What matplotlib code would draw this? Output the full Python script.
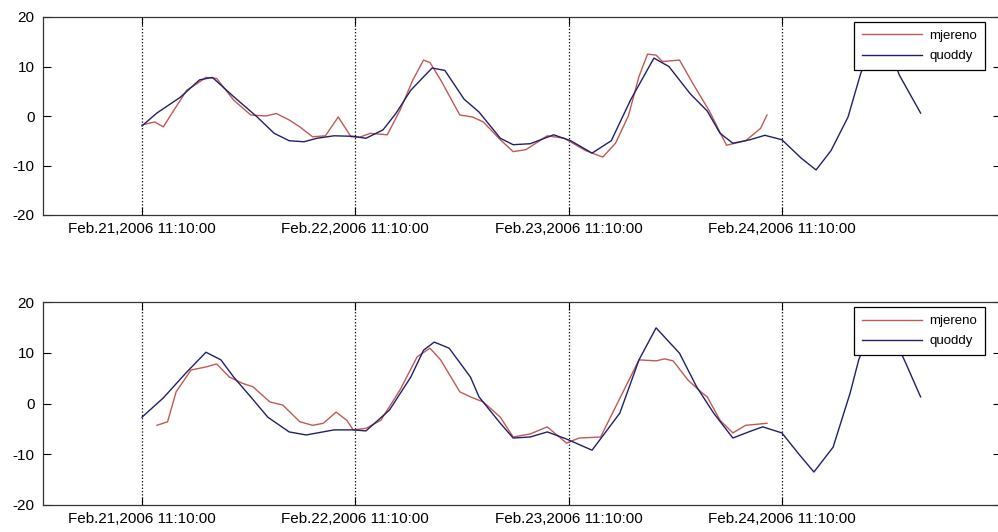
import matplotlib
matplotlib.use('Agg')
import matplotlib.pyplot as plt

plt.rcParams['font.family'] = ['Liberation Sans', 'DejaVu Sans']
plt.rcParams['axes.unicode_minus'] = False

# x in days after Feb.21,2006 11:10:00
tick_days = [0, 1, 2, 3]
tick_labels = ['Feb.21,2006 11:10:00', 'Feb.22,2006 11:10:00',
               'Feb.23,2006 11:10:00', 'Feb.24,2006 11:10:00']

# top panel
top_quoddy_t = [0.00, 0.07, 0.18, 0.27, 0.33, 0.43, 0.54, 0.62, 0.69, 0.76, 0.82, 0.90,
                0.99, 1.05, 1.13, 1.19, 1.26, 1.36, 1.42, 1.51, 1.58, 1.68, 1.74, 1.82,
                1.93, 2.01, 2.11, 2.20, 2.29, 2.40, 2.47, 2.57, 2.65, 2.71, 2.77, 2.85,
                2.92, 3.00, 3.09, 3.16, 3.23, 3.31, 3.37, 3.42, 3.46, 3.51, 3.55, 3.65]
top_quoddy = [-2.0, 0.6, 3.8, 7.3, 7.8, 3.9, -0.2, -3.5, -5.0, -5.2, -4.5, -4.0,
              -4.1, -4.5, -2.8, 0.5, 5.2, 9.7, 9.2, 3.4, 0.8, -4.5, -5.8, -5.6,
              -3.8, -5.0, -7.5, -5.0, 3.2, 11.7, 10.0, 4.5, 1.0, -3.5, -5.5, -4.8,
              -3.9, -4.8, -8.5, -10.9, -7.0, -0.2, 8.7, 13.5, 15.0, 13.0, 8.3, 0.6]

top_mjereno_t = [0.00, 0.06, 0.10, 0.15, 0.21, 0.27, 0.30, 0.35, 0.43, 0.51, 0.58, 0.63,
                 0.69, 0.74, 0.80, 0.86, 0.92, 0.98, 1.02, 1.07, 1.15, 1.21, 1.27, 1.32,
                 1.35, 1.40, 1.49, 1.55, 1.60, 1.68, 1.74, 1.80, 1.90, 1.98, 2.08, 2.16,
                 2.22, 2.28, 2.33, 2.37, 2.41, 2.44, 2.52, 2.59, 2.66, 2.74, 2.83, 2.90, 2.93]
top_mjereno = [-1.8, -1.2, -2.2, 1.2, 5.2, 6.9, 7.8, 7.6, 3.2, 0.2, 0.0, 0.5,
               -0.8, -2.2, -4.2, -4.0, -0.2, -4.2, -4.3, -3.5, -3.8, 1.2, 7.3, 11.3,
               10.8, 7.3, 0.2, -0.2, -1.2, -4.8, -7.2, -6.8, -4.0, -4.5, -7.0, -8.3,
               -5.5, 0.0, 8.0, 12.5, 12.3, 11.0, 11.3, 6.0, 1.0, -5.9, -5.0, -2.5, 0.2]

# bottom panel
bot_quoddy_t = [0.00, 0.10, 0.21, 0.30, 0.37, 0.43, 0.51, 0.59, 0.69, 0.77, 0.90, 0.99,
                1.05, 1.16, 1.26, 1.32, 1.37, 1.44, 1.54, 1.58, 1.68, 1.74, 1.82, 1.90,
                1.99, 2.11, 2.24, 2.33, 2.41, 2.52, 2.60, 2.68, 2.77, 2.85, 2.91, 3.00,
                3.08, 3.15, 3.24, 3.32, 3.36, 3.41, 3.46, 3.52, 3.58, 3.65]
bot_quoddy = [-2.7, 1.1, 6.2, 10.1, 8.6, 5.2, 1.3, -2.7, -5.6, -6.2, -5.2, -5.2,
              -5.4, -1.3, 5.2, 10.5, 12.1, 10.9, 5.2, 1.3, -3.9, -6.8, -6.6, -5.6,
              -7.0, -9.2, -1.9, 8.6, 14.9, 9.9, 3.3, -1.9, -6.8, -5.5, -4.6, -5.8,
              -10.0, -13.5, -8.6, 2.1, 8.6, 14.0, 15.5, 13.5, 8.0, 1.3]

bot_mjereno_t = [0.07, 0.12, 0.16, 0.23, 0.30, 0.35, 0.41, 0.47, 0.52, 0.60, 0.66, 0.74,
                 0.80, 0.85, 0.91, 0.96, 0.99, 1.05, 1.12, 1.21, 1.29, 1.35, 1.40, 1.49,
                 1.54, 1.60, 1.68, 1.74, 1.82, 1.90, 1.99, 2.05, 2.15, 2.26, 2.33, 2.41,
                 2.45, 2.49, 2.56, 2.62, 2.65, 2.71, 2.77, 2.83, 2.93]
bot_mjereno = [-4.3, -3.6, 2.3, 6.6, 7.2, 7.8, 5.2, 4.0, 3.3, 0.3, -0.3, -3.6,
               -4.3, -3.9, -1.7, -3.3, -5.2, -4.9, -3.3, 2.7, 9.2, 10.9, 8.6, 2.3,
               1.3, 0.3, -2.7, -6.6, -6.0, -4.6, -7.8, -6.8, -6.6, 2.7, 8.6, 8.4,
               8.8, 8.4, 4.6, 2.3, 1.3, -3.3, -5.8, -4.3, -3.9]

red = '#c05a52'
blue = '#20206a'

fig = plt.figure(figsize=(9.98, 5.32), dpi=100)
ax_top = fig.add_axes([43 / 998, 1 - 215 / 532, 958 / 998, 198 / 532])
ax_bot = fig.add_axes([43 / 998, 1 - 505 / 532, 958 / 998, 203 / 532])

panels = [(ax_top, top_mjereno_t, top_mjereno, top_quoddy_t, top_quoddy),
          (ax_bot, bot_mjereno_t, bot_mjereno, bot_quoddy_t, bot_quoddy)]

for ax, mt, mv, qt, qv in panels:
    ax.plot(mt, mv, color=red, linewidth=1.0, label='mjereno')
    ax.plot(qt, qv, color=blue, linewidth=1.0, label='quoddy')
    ax.set_xlim(-0.464, 4.027)
    ax.set_ylim(-20, 20)
    ax.set_yticks([-20, -10, 0, 10, 20])
    ax.set_xticks(tick_days)
    ax.set_xticklabels(tick_labels)
    ax.grid(axis='x', color='black', linestyle=':', linewidth=0.9)
    ax.tick_params(direction='in', length=6, width=0.8, top=True, right=True,
                   labelsize=11, colors='black')
    ax.tick_params(axis='y', pad=6)
    ax.tick_params(axis='x', pad=5)
    for s in ax.spines.values():
        s.set_linewidth(0.9)
        s.set_color('#333333')
    leg = ax.legend(loc='upper right', bbox_to_anchor=(0.983, 0.975), borderaxespad=0,
                    fancybox=False, framealpha=1, edgecolor='black', fontsize=9.5,
                    handlelength=4.6, borderpad=0.6, labelspacing=0.6, handletextpad=0.5)
    leg.get_frame().set_linewidth(0.9)

fig.savefig('out.png', dpi=100)
